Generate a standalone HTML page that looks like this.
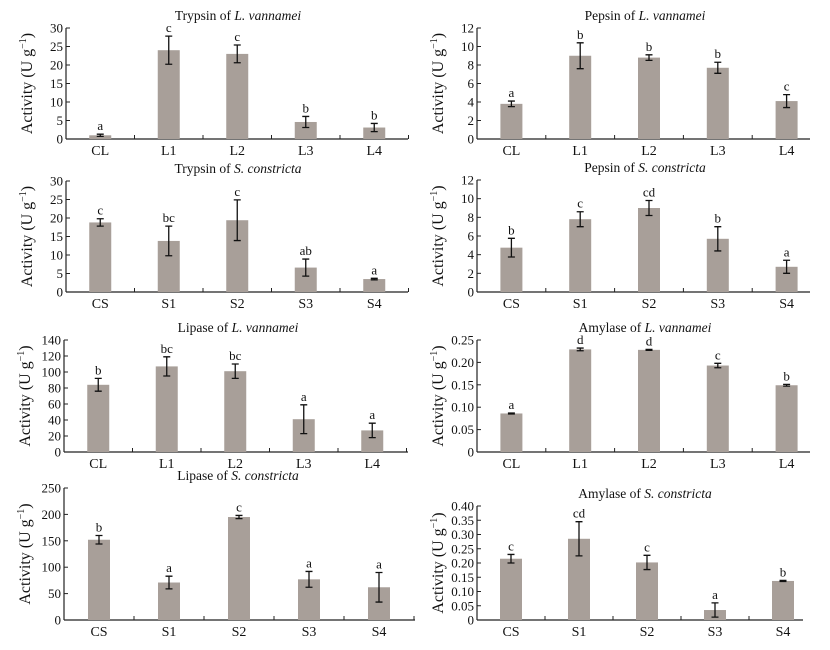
<!DOCTYPE html>
<html><head><meta charset="utf-8"><style>
body{margin:0;background:#fff;}
svg text{font-family:"Liberation Serif",serif;fill:#111;}
</style></head><body>
<svg id="c" width="830" height="645" viewBox="0 0 830 645" xmlns="http://www.w3.org/2000/svg"></svg>
<script>
// Data arrays
const catsL = ["CL","L1","L2","L3","L4"];
const catsS = ["CS","S1","S2","S3","S4"];
const trypsinLV = [1.0,24,23,4.6,3.1];
const trypsinLVErr = [0.3,3.8,2.4,1.5,1.1];
const trypsinLVLet = ["a","c","c","b","b"];
const pepsinLV = [3.8,9.0,8.8,7.7,4.1];
const pepsinLVErr = [0.3,1.4,0.3,0.6,0.7];
const pepsinLVLet = ["a","b","b","b","c"];
const trypsinSC = [18.8,13.8,19.4,6.6,3.5];
const trypsinSCErr = [1.0,4.0,5.5,2.3,0.2];
const trypsinSCLet = ["c","bc","c","ab","a"];
const pepsinSC = [4.75,7.8,9.0,5.7,2.7];
const pepsinSCErr = [1.0,0.8,0.8,1.3,0.7];
const pepsinSCLet = ["b","c","cd","b","a"];
const lipaseLV = [84,107,101,41,27];
const lipaseLVErr = [8,12,9,18,9];
const lipaseLVLet = ["b","bc","bc","a","a"];
const amylaseLV = [0.086,0.229,0.228,0.193,0.149];
const amylaseLVErr = [0.001,0.003,0.001,0.005,0.002];
const amylaseLVLet = ["a","d","d","c","b"];
const lipaseSC = [152,71,195,77,62];
const lipaseSCErr = [8,12,3,15,28];
const lipaseSCLet = ["b","a","c","a","a"];
const amylaseSC = [0.215,0.285,0.202,0.035,0.137];
const amylaseSCErr = [0.015,0.06,0.025,0.025,0.002];
const amylaseSCLet = ["c","cd","c","a","b"];
const ticks30 = [0,5,10,15,20,25,30];
const ticks12 = [0,2,4,6,8,10,12];
const ticks140 = [0,20,40,60,80,100,120,140];
const ticks025 = ["0","0.05","0.10","0.15","0.20","0.25"];
const ticks250 = [0,50,100,150,200,250];
const ticks040 = ["0","0.05","0.10","0.15","0.20","0.25","0.30","0.35","0.40"];

const svg=document.getElementById('c');
const NS="http://www.w3.org/2000/svg";
function mk(tag,attrs,parent){const e=document.createElementNS(NS,tag);for(const k in attrs)e.setAttribute(k,attrs[k]);parent.appendChild(e);return e;}

function panel(o){
  const g=mk('g',{},svg);
  
  
  const ticks=o.ticks.map(Number);
  const ymax=ticks[ticks.length-1];
  const y=v=>o.bottom-(v/ymax)*(o.bottom-o.top);
  const xc=i=>o.x0+o.band*(i+0.5);
  // title
  const t=mk('text',{x:o.titleX,y:o.top-8,'font-size':13.5,'text-anchor':'middle'},g);
  
  
  t.appendChild(document.createTextNode(o.t1));
  const ts=mk('tspan',{'font-style':'italic'},t);ts.textContent=o.t2;
  // y axis title
  const yt=mk('text',{transform:`translate(${o.x0-34},${(o.top+o.bottom)/2}) rotate(-90)`,'font-size':16,'text-anchor':'middle'},g);
  
  
  yt.appendChild(document.createTextNode('Activity (U g'));
  const sp=mk('tspan',{'font-size':10,dy:-6},yt);sp.textContent='−1';
  const sp2=mk('tspan',{dy:6},yt);sp2.textContent=')';
  // axes
  const ya=mk('line',{x1:o.x0,y1:o.top,x2:o.x0,y2:o.bottom,stroke:'#222','stroke-width':1.2},g);
  
  
  const xa=mk('line',{x1:o.x0,y1:o.bottom,x2:o.xEnd,y2:o.bottom,stroke:'#222','stroke-width':1.2},g);
  
  
  o.ticks.forEach((lab,k)=>{
    const v=Number(lab),yy=y(v);
    mk('line',{x1:o.x0,y1:yy,x2:o.x0+4,y2:yy,stroke:'#222','stroke-width':1},g);
    const tl=mk('text',{x:o.x0-3,y:yy+4.5,'font-size':13,'text-anchor':'end'},g);
    
    
    tl.textContent=lab;
  });
  for(let i=1;i<=5;i++){const xx=o.x0+o.band*i;if(xx<=o.xEnd+1)mk('line',{x1:xx,y1:o.bottom,x2:xx,y2:o.bottom-4,stroke:'#222','stroke-width':1},g);}
  o.cats.forEach((c,i)=>{
    const cx=xc(i),v=o.vals[i],e=o.err[i];
    const b=mk('rect',{x:cx-11,y:y(v),width:22,height:o.bottom-y(v),fill:'#a89f99'},g);
    
    
    const e1=y(v+e),e2=y(Math.max(0,v-e));
    const eb=mk('path',{d:`M${cx},${e1}V${e2}M${cx-3.5},${e1}H${cx+3.5}M${cx-3.5},${e2}H${cx+3.5}`,stroke:'#111','stroke-width':1.3,fill:'none'},g);
    
    
    const lt=mk('text',{x:cx,y:e1-4,'font-size':13,'text-anchor':'middle'},g);
    
    
    lt.textContent=o.lets[i];
    const xl=mk('text',{x:cx,y:o.bottom+16,'font-size':14,'text-anchor':'middle'},g);
    
    
    xl.textContent=c;
  });
}
panel({name:'trypsin-lv-panel',t1:'Trypsin of ',t2:'L. vannamei',cats:catsL,vals:trypsinLV,err:trypsinLVErr,lets:trypsinLVLet,ticks:ticks30,x0:66,band:68.5,xEnd:408,top:28,bottom:139,titleX:238});
panel({name:'pepsin-lv-panel',t1:'Pepsin of ',t2:'L. vannamei',cats:catsL,vals:pepsinLV,err:pepsinLVErr,lets:pepsinLVLet,ticks:ticks12,x0:477,band:68.8,xEnd:810,top:28,bottom:139,titleX:645});
panel({name:'trypsin-sc-panel',t1:'Trypsin of ',t2:'S. constricta',cats:catsS,vals:trypsinSC,err:trypsinSCErr,lets:trypsinSCLet,ticks:ticks30,x0:66,band:68.5,xEnd:408,top:181,bottom:292,titleX:238});
panel({name:'pepsin-sc-panel',t1:'Pepsin of ',t2:'S. constricta',cats:catsS,vals:pepsinSC,err:pepsinSCErr,lets:pepsinSCLet,ticks:ticks12,x0:477,band:68.8,xEnd:810,top:180,bottom:292,titleX:645});
panel({name:'lipase-lv-panel',t1:'Lipase of ',t2:'L. vannamei',cats:catsL,vals:lipaseLV,err:lipaseLVErr,lets:lipaseLVLet,ticks:ticks140,x0:64,band:68.5,xEnd:408,top:340,bottom:452,titleX:238});
panel({name:'amylase-lv-panel',t1:'Amylase of ',t2:'L. vannamei',cats:catsL,vals:amylaseLV,err:amylaseLVErr,lets:amylaseLVLet,ticks:ticks025,x0:477,band:68.8,xEnd:810,top:340,bottom:452,titleX:645});
panel({name:'lipase-sc-panel',t1:'Lipase of ',t2:'S. constricta',cats:catsS,vals:lipaseSC,err:lipaseSCErr,lets:lipaseSCLet,ticks:ticks250,x0:64,band:70,xEnd:415,top:488,bottom:620,titleX:238});
panel({name:'amylase-sc-panel',t1:'Amylase of ',t2:'S. constricta',cats:catsS,vals:amylaseSC,err:amylaseSCErr,lets:amylaseSCLet,ticks:ticks040,x0:477,band:68,xEnd:803,top:506,bottom:620,titleX:645});
</script>
</body></html>
